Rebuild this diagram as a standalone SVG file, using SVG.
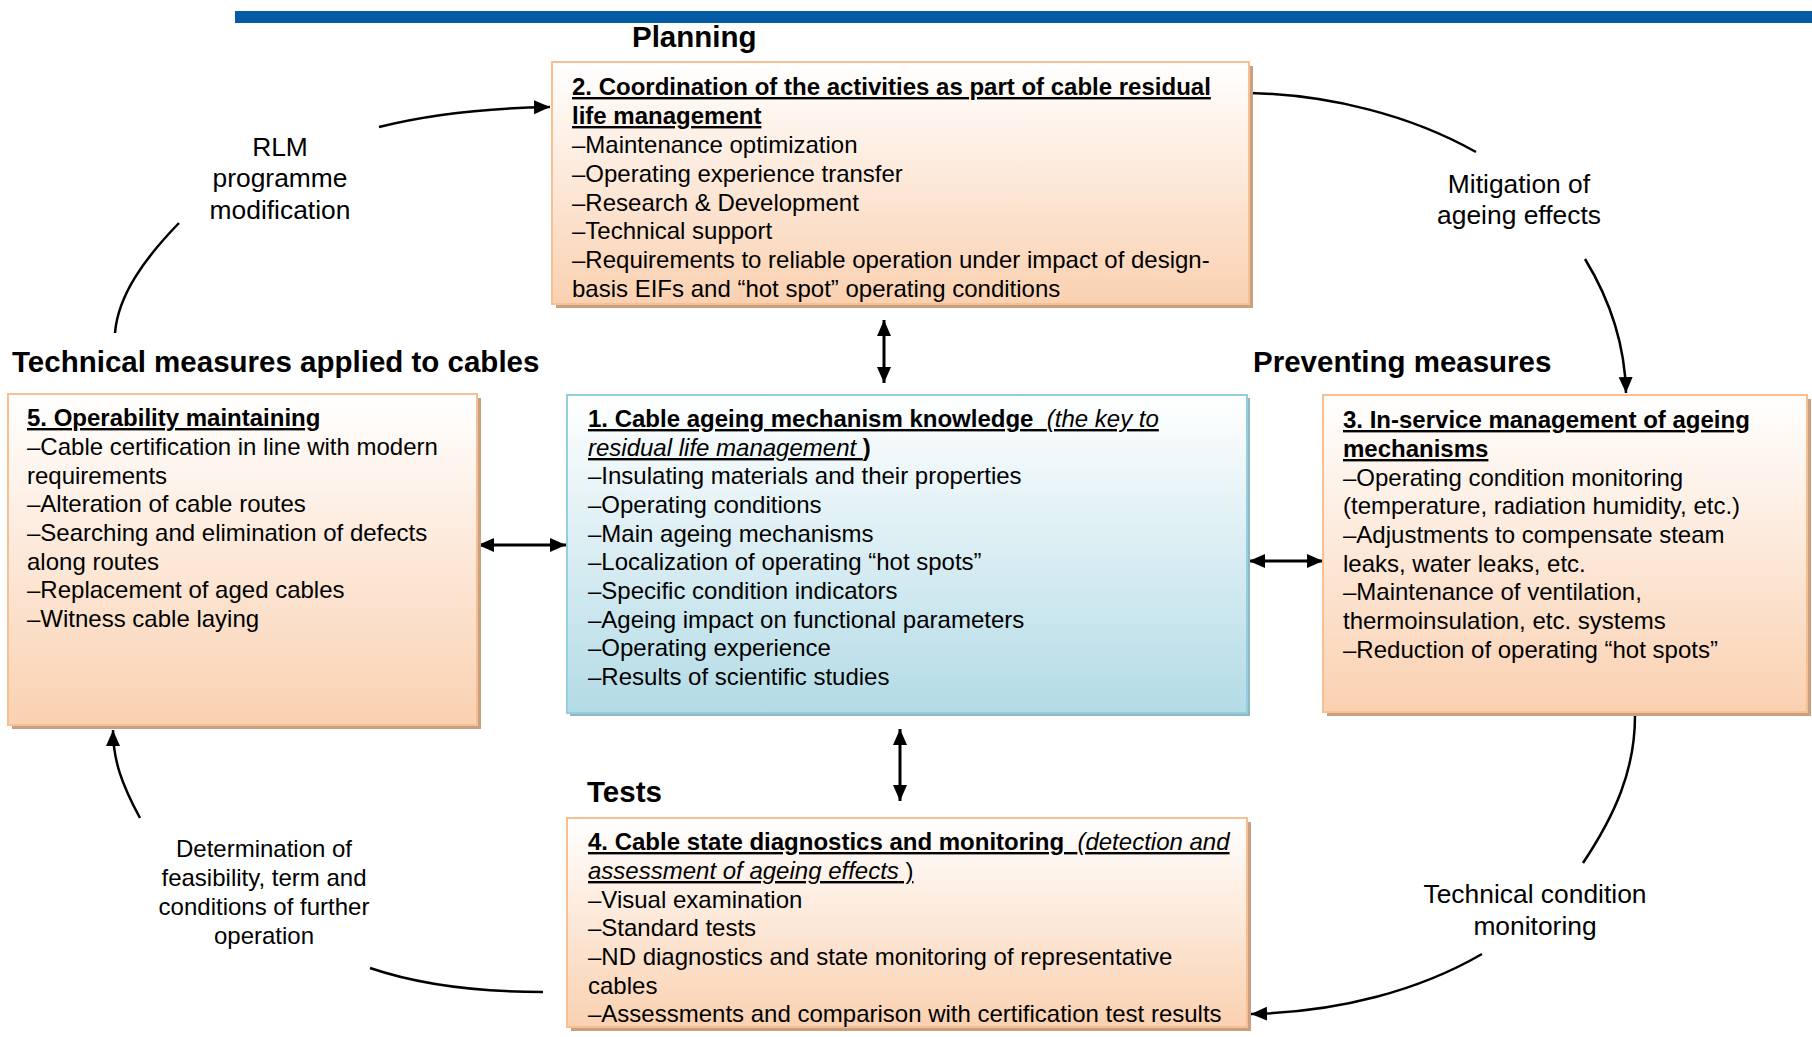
<svg xmlns="http://www.w3.org/2000/svg" width="1812" height="1037" viewBox="0 0 1812 1037">
<style>
text{font-family:"Liberation Sans",Arial,sans-serif;fill:#000}
.t{font-size:24px}
.h{font-size:29.5px;font-weight:bold}
.l{font-size:26.4px;text-anchor:middle}
.l2{font-size:24px;text-anchor:middle}
.b{font-weight:bold;text-decoration:underline}
.i{font-style:italic;text-decoration:underline}
.u{text-decoration:underline}
.or{fill:url(#gO);stroke:#F8BF92;stroke-width:2}
.bl{fill:url(#gB);stroke:#95CEDC;stroke-width:2}
.so{fill:#C9A180}
.sb{fill:#8DB9C6}
.c{fill:none;stroke:#000;stroke-width:2.5}
.d{fill:none;stroke:#000;stroke-width:3}
</style>
<defs>
<linearGradient id="gO" x1="0" y1="0" x2="0" y2="1">
<stop offset="0" stop-color="#FFFFFF"/>
<stop offset="1" stop-color="#FAD1B1"/>
</linearGradient>
<linearGradient id="gB" x1="0" y1="0" x2="0" y2="1">
<stop offset="0" stop-color="#FFFFFF"/>
<stop offset="1" stop-color="#B3DBE6"/>
</linearGradient>
<marker id="ah" markerUnits="userSpaceOnUse" markerWidth="18" markerHeight="16" refX="16" refY="7" orient="auto-start-reverse" viewBox="0 0 18 16">
<path d="M0,0 L16,7 L0,14 z" fill="#000"/>
</marker>
</defs>
<rect x="235" y="11" width="1577" height="12" fill="#055CA5"/>
<text class="h" x="632" y="47">Planning</text>
<text class="h" x="12" y="372">Technical measures applied to cables</text>
<text class="h" x="1253" y="372">Preventing measures</text>
<text class="h" x="587" y="802">Tests</text>

<g id="connectors">
<path class="c" d="M379,127 C430,114 490,108 550,107" marker-end="url(#ah)"/>
<path class="c" d="M179,223 C145,258 118,295 115,333"/>
<path class="c" d="M1250,93 C1330,95 1410,115 1476,152"/>
<path class="c" d="M1585,259 C1610,300 1625,345 1626,393" marker-end="url(#ah)"/>
<path class="c" d="M1635,716 C1635,770 1615,815 1583,863"/>
<path class="c" d="M1482,954 C1420,990 1340,1012 1251,1014" marker-end="url(#ah)"/>
<path class="c" d="M543,992 C480,992 420,985 370,968"/>
<path class="c" d="M140,818 C122,785 113,760 113,730" marker-end="url(#ah)"/>
<path class="d" d="M884,320 L884,383" marker-start="url(#ah)" marker-end="url(#ah)"/>
<path class="d" d="M478,545 L566,545" marker-start="url(#ah)" marker-end="url(#ah)"/>
<path class="d" d="M1249,561 L1323,561" marker-start="url(#ah)" marker-end="url(#ah)"/>
<path class="d" d="M900,729 L900,801" marker-start="url(#ah)" marker-end="url(#ah)"/>
</g>

<g id="label-rlm">
<text class="l" x="280" y="156">RLM</text>
<text class="l" x="280" y="187">programme</text>
<text class="l" x="280" y="219">modification</text>
</g>
<g id="label-mitigation">
<text class="l" x="1519" y="193">Mitigation of</text>
<text class="l" x="1519" y="224">ageing effects</text>
</g>
<g id="label-tcm">
<text class="l" x="1535" y="903">Technical condition</text>
<text class="l" x="1535" y="935">monitoring</text>
</g>
<g id="label-determination">
<text class="l2" x="264" y="857">Determination of</text>
<text class="l2" x="264" y="886">feasibility, term and</text>
<text class="l2" x="264" y="915">conditions of further</text>
<text class="l2" x="264" y="944">operation</text>
</g>

<g id="node2">
<rect class="so" x="556" y="66" width="697" height="242"/>
<rect class="or" x="552" y="62" width="697" height="242"/>
<text class="t" x="572" y="95"><tspan class="b">2. Coordination of the activities as part of cable residual</tspan></text>
<text class="t" x="572" y="124"><tspan class="b">life management</tspan></text>
<text class="t" x="572" y="153">–Maintenance optimization</text>
<text class="t" x="572" y="182">–Operating experience transfer</text>
<text class="t" x="572" y="211">–Research &amp; Development</text>
<text class="t" x="572" y="239">–Technical support</text>
<text class="t" x="572" y="268">–Requirements to reliable operation under impact of design-</text>
<text class="t" x="572" y="297">basis EIFs and “hot spot” operating conditions</text>
</g>

<g id="node1">
<rect class="sb" x="570" y="398" width="680" height="318"/>
<rect class="bl" x="567" y="395" width="680" height="318"/>
<text class="t" x="588" y="427" xml:space="preserve"><tspan class="b">1. Cable ageing mechanism knowledge  </tspan><tspan class="i">(the key to</tspan></text>
<text class="t" x="588" y="456" xml:space="preserve"><tspan class="i">residual life management </tspan><tspan font-weight="bold">)</tspan></text>
<text class="t" x="588" y="484">–Insulating materials and their properties</text>
<text class="t" x="588" y="513">–Operating conditions</text>
<text class="t" x="588" y="542">–Main ageing mechanisms</text>
<text class="t" x="588" y="570">–Localization of operating “hot spots”</text>
<text class="t" x="588" y="599">–Specific condition indicators</text>
<text class="t" x="588" y="628">–Ageing impact on functional parameters</text>
<text class="t" x="588" y="656">–Operating experience</text>
<text class="t" x="588" y="685">–Results of scientific studies</text>
</g>

<g id="node3">
<rect class="so" x="1327" y="399" width="484" height="317"/>
<rect class="or" x="1323" y="395" width="484" height="317"/>
<text class="t" x="1343" y="428"><tspan class="b">3. In-service management of ageing</tspan></text>
<text class="t" x="1343" y="457"><tspan class="b">mechanisms</tspan></text>
<text class="t" x="1343" y="486">–Operating condition monitoring</text>
<text class="t" x="1343" y="514">(temperature, radiation humidity, etc.)</text>
<text class="t" x="1343" y="543">–Adjustments to compensate steam</text>
<text class="t" x="1343" y="572">leaks, water leaks, etc.</text>
<text class="t" x="1343" y="600">–Maintenance of ventilation,</text>
<text class="t" x="1343" y="629">thermoinsulation, etc. systems</text>
<text class="t" x="1343" y="658">–Reduction of operating “hot spots”</text>
</g>

<g id="node4">
<rect class="so" x="571" y="822" width="680" height="209"/>
<rect class="or" x="567" y="818" width="680" height="209"/>
<text class="t" x="588" y="850" xml:space="preserve"><tspan class="b">4. Cable state diagnostics and monitoring  </tspan><tspan class="i">(detection and</tspan></text>
<text class="t" x="588" y="879"><tspan class="i">assessment of ageing effects</tspan><tspan class="u"> )</tspan></text>
<text class="t" x="588" y="908">–Visual examination</text>
<text class="t" x="588" y="936">–Standard tests</text>
<text class="t" x="588" y="965">–ND diagnostics and state monitoring of representative</text>
<text class="t" x="588" y="994">cables</text>
<text class="t" x="588" y="1022">–Assessments and comparison with certification test results</text>
</g>

<g id="node5">
<rect class="so" x="12" y="398" width="469" height="331"/>
<rect class="or" x="8" y="394" width="469" height="331"/>
<text class="t" x="27" y="426"><tspan class="b">5. Operability maintaining</tspan></text>
<text class="t" x="27" y="455">–Cable certification in line with modern</text>
<text class="t" x="27" y="484">requirements</text>
<text class="t" x="27" y="512">–Alteration of cable routes</text>
<text class="t" x="27" y="541">–Searching and elimination of defects</text>
<text class="t" x="27" y="570">along routes</text>
<text class="t" x="27" y="598">–Replacement of aged cables</text>
<text class="t" x="27" y="627">–Witness cable laying</text>
</g>
</svg>
